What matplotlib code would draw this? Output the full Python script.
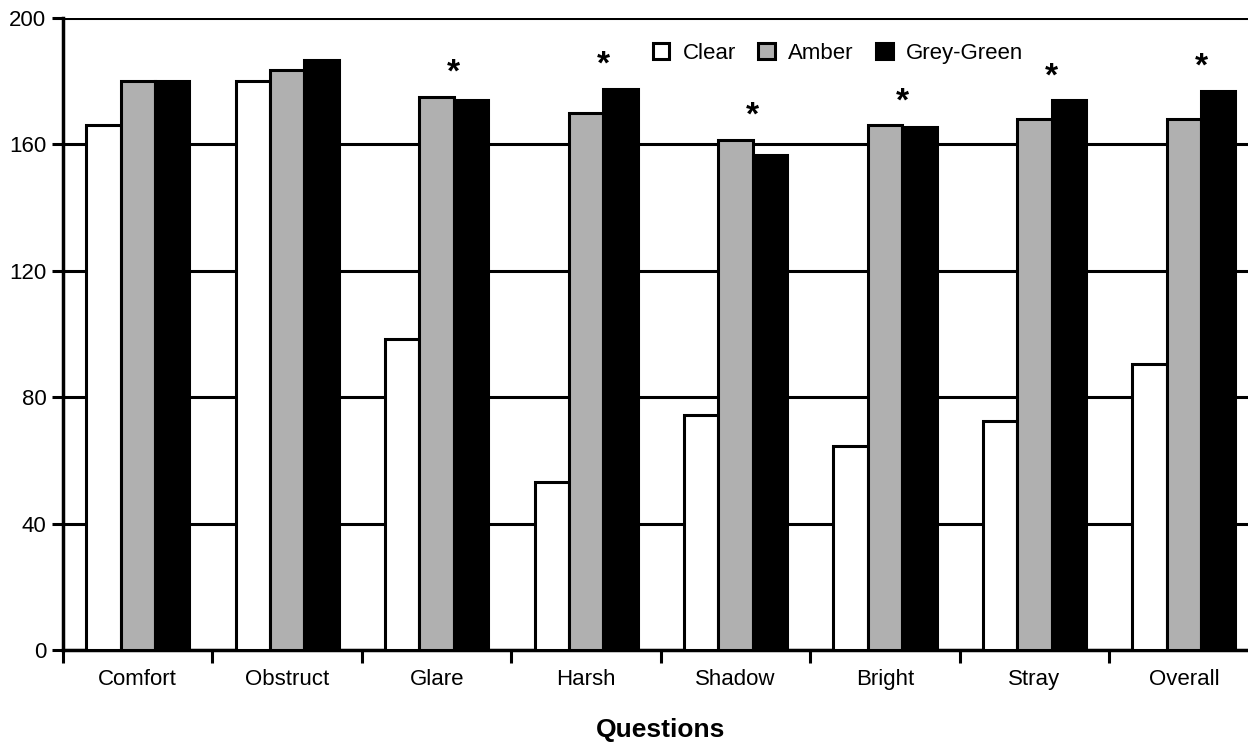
import numpy as np
import matplotlib.pyplot as plt

plt.rcParams['font.family'] = ['Liberation Sans', 'DejaVu Sans']

# Survey scores per question for each lens tint
questions = ['Comfort', 'Obstruct', 'Glare', 'Harsh', 'Shadow', 'Bright', 'Stray', 'Overall']
clear = [166, 180, 98.5, 53, 74.5, 64.5, 72.5, 90.5]
amber = [180, 183.5, 175, 170, 161.5, 166, 168, 168]
grey_green = [180, 186.5, 174, 177.5, 156.5, 165.5, 174, 177]
# questions with a significant difference
significant = [False, False, True, True, True, True, True, True]

series = [('Clear', clear, 'white'),
          ('Amber', amber, '#b0b0b0'),
          ('Grey-Green', grey_green, 'black')]

fig = plt.figure(figsize=(12.48, 7.42), dpi=100)
ax = fig.add_axes([0.0505, 0.124, 0.958, 0.852])

x = np.arange(len(questions))
w = 0.23
for i, (name, vals, col) in enumerate(series):
    ax.bar(x + (i - 1) * w, vals, w, color=col, edgecolor='black',
           linewidth=2.2, label=name, zorder=3)

for xi, sig, a, g in zip(x, significant, amber, grey_green):
    if sig:
        ax.text(xi + 0.5 * w, max(a, g) + 2.5, '*', ha='center', va='bottom',
                fontsize=24, fontweight='bold', zorder=4)

ax.set_xlim(-0.5, len(questions) - 0.5)
ax.set_ylim(0, 200)
ax.set_yticks(np.arange(0, 201, 40))
ax.yaxis.grid(True, color='black', linewidth=2.2, zorder=0)
ax.set_axisbelow(True)

ax.set_xticks(np.arange(-0.5, len(questions), 1.0))
ax.set_xticklabels([])
ax.set_xticks(x, minor=True)
ax.set_xticklabels(questions, minor=True, fontsize=16)
ax.tick_params(axis='x', which='major', direction='out', length=9, width=2.2)
ax.tick_params(axis='x', which='minor', length=0, pad=14)
ax.tick_params(axis='y', direction='out', length=8, width=2.2, labelsize=16, pad=4)

for side in ['top', 'right']:
    ax.spines[side].set_visible(False)
for side in ['left', 'bottom']:
    ax.spines[side].set_linewidth(2.5)

ax.set_xlabel('Questions', fontsize=19, fontweight='bold', labelpad=20)

fig.legend(loc='upper left', bbox_to_anchor=(0.523, 0.942), ncol=3, frameon=False,
           fontsize=16, handlelength=0.75, handleheight=0.75, handletextpad=0.6,
           columnspacing=1.0, borderpad=0, borderaxespad=0)

fig.savefig('out.png', dpi=100)
